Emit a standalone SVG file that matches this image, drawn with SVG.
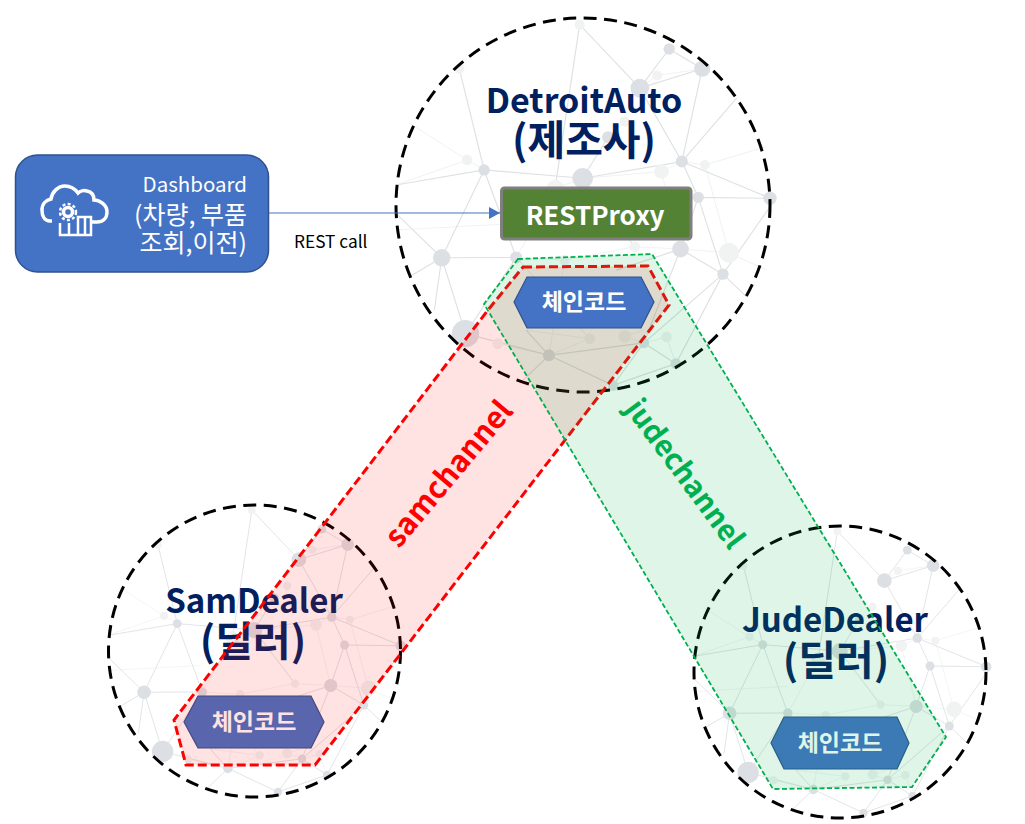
<svg xmlns="http://www.w3.org/2000/svg" width="1025" height="824" viewBox="0 0 1025 824">
<style>
text{font-family:"Noto Sans CJK KR","Noto Sans",sans-serif}
.ring{fill:none;stroke:#000;stroke-width:3;stroke-dasharray:13 7.5}
.t{font-weight:700;font-size:33px;fill:#002060;text-anchor:middle}
.k{font-weight:700;font-size:41px;fill:#002060;text-anchor:middle}
.hex{stroke:#2f528f;stroke-width:1.2}
.code{font-weight:700;font-size:23px;fill:#fff;text-anchor:middle}
.dash{font-size:25px;fill:#fff;text-anchor:end}
.e1{fill:none;stroke:#dfe1e3;stroke-width:3.500}
.e2{fill:none;stroke:#f1f2f3;stroke-width:3}
.n1{fill:#dcdfe3}
.n2{fill:#f1f3f3}
.icon{fill:none;stroke:#fff;stroke-width:3.500}
</style>
<defs>
<g id="net" transform="translate(-580 -585)">
<path class="e2" d="M20 525L233 450M233 450L284 480M60 340L233 450M20 660L380 640M380 742L497 535M497 535L579 505M579 505L815 485M815 485L876 455M876 455L945 465M945 465L1130 410M802 197L750 235M802 197L937 177M735 710L872 717M735 710L525 750M1017 728L872 717M1017 728L1130 780M815 485L872 717M945 465L1017 728M325 1000L478 1035M600 985L478 1035M705 978L762 998M830 980L762 998M830 980L858 1060M600 985L410 960M705 978L760 960M525 750L478 1035M380 742L525 750M380 742L600 985"/>
<path class="e1" d="M570 45L497 530M570 45L750 235M838 118L750 235M838 118L937 177M937 177L750 235M937 177L876 455M750 235L876 455M1040 265L876 455M655 382L579 505M210 178L284 480M284 480L579 505M284 480L20 525M284 480L157 743M284 480L380 742M579 505L876 455M579 505L735 710M876 455L925 562M876 455L1130 560M925 562L1140 565M925 562L872 717M925 562L999 792M872 717L999 792M872 717L762 998M872 717L680 780M157 743L380 742M157 743L228 970M157 743L60 800M157 743L135 900M20 610L157 743M1140 590L999 792M999 792L1070 860M999 792L762 998M762 998L858 1060M858 1060L999 792M478 1035L762 998M478 1035L670 1125M478 1035L400 1110M478 1035L228 970M478 1035L410 960M228 970L380 742M670 1125L858 1060M670 1125L762 998"/>
<g class="n2"><circle cx="570" cy="45" r="15"/><circle cx="802" cy="197" r="15"/><circle cx="210" cy="178" r="15"/><circle cx="233" cy="450" r="16"/><circle cx="945" cy="465" r="15"/><circle cx="815" cy="485" r="22"/><circle cx="497" cy="535" r="26"/><circle cx="1017" cy="728" r="30"/><circle cx="735" cy="710" r="16"/><circle cx="705" cy="335" r="16"/><circle cx="325" cy="1000" r="16"/><circle cx="600" cy="985" r="16"/><circle cx="705" cy="978" r="19"/><circle cx="830" cy="980" r="16"/><circle cx="525" cy="750" r="16"/></g>
<g class="n1"><circle cx="838" cy="118" r="17"/><circle cx="937" cy="177" r="24"/><circle cx="750" cy="235" r="28"/><circle cx="655" cy="382" r="18"/><circle cx="284" cy="480" r="17"/><circle cx="579" cy="505" r="31"/><circle cx="876" cy="455" r="18"/><circle cx="925" cy="562" r="17"/><circle cx="1140" cy="565" r="20"/><circle cx="872" cy="717" r="25"/><circle cx="999" cy="792" r="17"/><circle cx="157" cy="743" r="26"/><circle cx="380" cy="742" r="18"/><circle cx="228" cy="970" r="41"/><circle cx="478" cy="1035" r="18"/><circle cx="762" cy="998" r="16"/><circle cx="858" cy="1060" r="16"/><circle cx="670" cy="1125" r="16"/></g>
</g>
<marker id="arr" markerUnits="userSpaceOnUse" markerWidth="12" markerHeight="12" refX="11" refY="6" orient="auto"><path d="M0 0L11 6L0 12Z" fill="#4472c4"/></marker>
</defs>

<g id="node-samdealer">
<use href="#net" transform="translate(254.5 651) scale(.261)"/>
<circle class="ring" cx="254.5" cy="651" r="146"/>
<text class="t" x="254" y="613">SamDealer</text>
<text class="k" x="253" y="656">(딜러)</text>
<polygon class="hex" fill="#4472c4" points="184,722 198,696 311,696 324,722 311,748 198,748"/>
<text class="code" x="254" y="730">체인코드</text>
</g>

<g id="node-judedealer">
<use href="#net" transform="translate(840 672) scale(.261)"/>
<circle class="ring" cx="840" cy="672" r="146"/>
<text class="t" x="835" y="632">JudeDealer</text>
<text class="k" x="836" y="675">(딜러)</text>
<polygon class="hex" fill="#4472c4" points="771,743 784,717 897,717 909,743 897,769 784,769"/>
<text class="code" x="840" y="751">체인코드</text>
</g>

<g id="node-detroitauto">
<use href="#net" transform="translate(583 205) scale(.334)"/>
<circle class="ring" cx="583" cy="205" r="187"/>
<text class="t" x="584" y="113" font-size="34" style="font-size:34px">DetroitAuto</text>
<text class="k" x="584" y="155">(제조사)</text>
</g>

<g id="channel-samchannel">
<polygon points="523,267 648,266 669,305 315,765 186,765 174,720 488,310" fill="#ff0000" fill-opacity=".115" stroke="#ff0000" stroke-width="3" stroke-dasharray="9 4"/>
<text x="449" y="484" transform="rotate(-50 449 474)" font-size="30" font-weight="700" fill="#ff0000" text-anchor="middle">samchannel</text>
</g>
<g id="channel-judechannel">
<polygon points="518,259 652,254 946,737 912,787 773,789 484,304" fill="#00b050" fill-opacity=".13" stroke="#00b050" stroke-width="1.8" stroke-dasharray="5 2.5"/>
<text x="685" y="484" transform="rotate(53.500 685 474)" font-size="29" font-weight="700" fill="#00b050" text-anchor="middle">judechannel</text>
</g>

<g id="node-chaincode-top">
<polygon class="hex" fill="#4472c4" points="514,302 527,277 641,277 654,302 641,328 527,328"/>
<text class="code" x="584" y="310">체인코드</text>
</g>

<g id="node-restproxy">
<rect x="501.500" y="188" width="189.500" height="51" rx="3" fill="#548235" stroke="#7f7f7f" stroke-width="3"/>
<text x="595" y="225" font-size="26" font-weight="700" fill="#fff" text-anchor="middle">RESTProxy</text>
</g>

<g id="node-dashboard">
<rect x="15.500" y="155" width="253" height="117" rx="22" fill="#4472c4" stroke="#2f528f" stroke-width="1.500"/>
<g class="icon">
<path d="M52 221H50C44 221 42 215 42 210C42 204 46 200 51 199C52 192 58 186 65 186C71 186 75 189 78 193C80 191 84 190 87 191C92 192 94 196 94 200C100 200 107 205 107 212C107 218 103 222 97 222H92"/>
<circle cx="68" cy="212" r="4.500"/>
<circle cx="68" cy="212" r="8" stroke-width="2.500" stroke-dasharray="3 2.300"/>
<path d="M60 223V235H91V217H78V235M69 223V235M85 217V235" stroke-width="2.500"/>
</g>
<text x="247" y="192" font-size="20.500" fill="#fff" text-anchor="end">Dashboard</text>
<text class="dash" x="247" y="224">(차량, 부품</text>
<text class="dash" x="247" y="252">조회,이전)</text>
</g>

<g id="connectors">
<line x1="269" y1="213" x2="500" y2="213" stroke="#4472c4" stroke-width="1.200" marker-end="url(#arr)"/>
<text x="294" y="248" font-size="17.300" fill="#000">REST call</text>
</g>
</svg>
